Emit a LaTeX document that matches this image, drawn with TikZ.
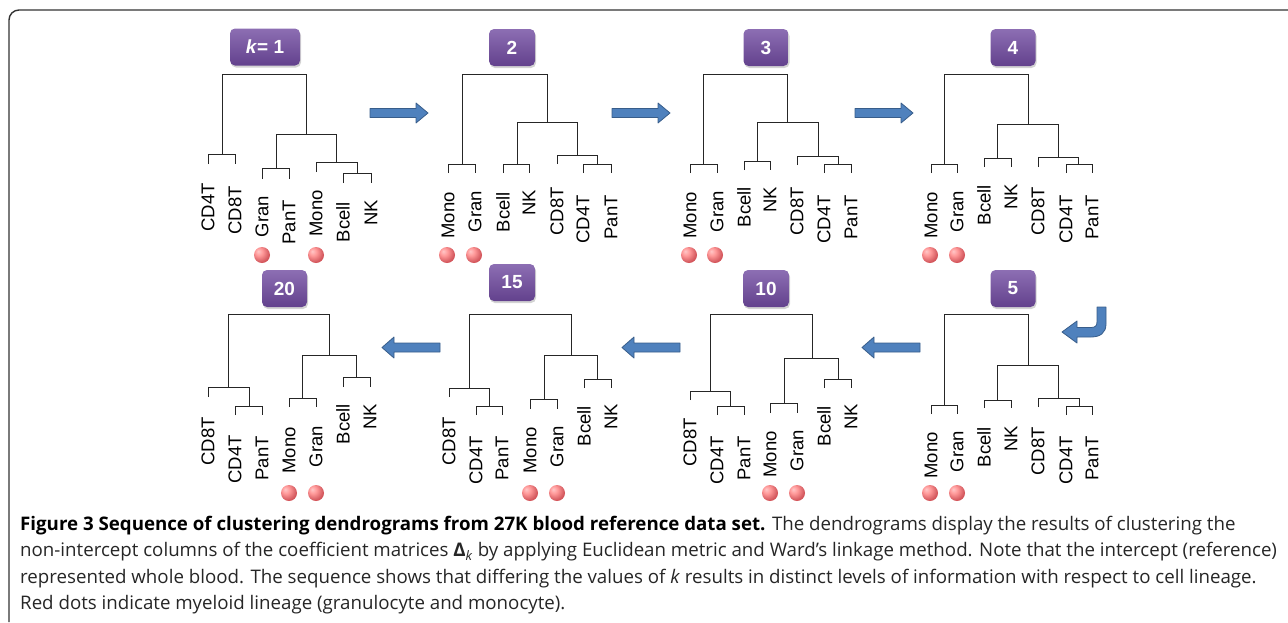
\documentclass[tikz,border=0pt]{standalone}
\usepackage{fontspec}
\setmainfont{Liberation Sans}
\newfontfamily\capfont{Open Sans}
\usepackage{tikz}
\usetikzlibrary{shadows}
\definecolor{boxpurple}{RGB}{112,74,160}
\definecolor{arrowblue}{RGB}{79,129,189}
\definecolor{arrowedge}{RGB}{56,93,138}
\definecolor{dotred}{RGB}{200,38,45}
\pgfdeclareradialshading{dotshade}{\pgfpoint{-12bp}{12bp}}{color(0bp)=(red!22!white); color(12bp)=(red!40!white); color(28bp)=(dotred!75!white); color(45bp)=(dotred); color(70bp)=(dotred)}

\begin{document}
\begin{tikzpicture}[x=1pt,y=-1pt,
    tree/.style={line width=1pt, black!85},
    leaf/.style={rotate=90, anchor=east, inner sep=0pt, font=\fontsize{18.5}{20}\selectfont},
    kbox/.style={rounded corners=5pt, top color=boxpurple!80!white, bottom color=boxpurple!88!black,
        text=white, font=\fontsize{19}{20}\selectfont\bfseries, minimum height=37pt, minimum width=45pt,
        drop shadow={opacity=0.35, shadow xshift=1pt, shadow yshift=-2pt}},
    dot/.style={shading=dotshade},
    barrow/.style={fill=arrowblue, draw=arrowedge, line width=0.8pt, line join=round},
    capline/.style={anchor=base west, inner sep=0pt, text=black!85, font=\capfont\fontsize{18.7}{22}\selectfont}]
    \useasboundingbox (0,0) rectangle (1288,622);
    \draw[line width=1.4pt, black!80, rounded corners=10pt] (9,622) |- (1288,10);

    % k = 1
    \node[kbox, minimum width=70pt] (t1) at (265,47) {\textit{k}= 1};
    \draw[tree] (222,154) |- (306,74) -- (306,134);
    \draw[tree] (208,164) |- (235,154) -- (235,164);
    \draw[tree] (276,168) |- (336,134) -- (336,162);
    \draw[tree] (262,179) |- (289,168) -- (289,179);
    \draw[tree] (316,172) |- (357,162) -- (357,173);
    \draw[tree] (343,183) |- (371,173) -- (371,183);
    \foreach \t/\x/\y [count=\i] in {CD4T/208/183, CD8T/235/186, Gran/262/196, PanT/289/200, Mono/316/190, Bcell/343/202, NK/371/200}
        \node[leaf] (p1-\i) at (\x,\y) {\t};
    \foreach \x in {262,316} \shade[dot] (\x,255) circle (8);

    % k = 2
    \node[kbox, minimum width=46pt] (t2) at (512,47.5) {2};
    \draw[tree] (462,164) |- (547,74) -- (547,122);
    \draw[tree] (448,173) |- (475,164) -- (475,173);
    \draw[tree] (517,164) |- (577,122) -- (577,155);
    \draw[tree] (503,173) |- (529,164) -- (529,173);
    \draw[tree] (557,164) |- (597,155) -- (597,164);
    \draw[tree] (583,173) |- (611,164) -- (611,173);
    \foreach \t/\x/\y [count=\i] in {Mono/448/192, Gran/475/191, Bcell/503/192, NK/529/190, CD8T/557/187, CD4T/583/195, PanT/611/195}
        \node[leaf] (p2-\i) at (\x,\y) {\t};
    \foreach \x in {447,474} \shade[dot] (\x,255) circle (8);

    % k = 3
    \node[kbox] (t3) at (766,47.5) {3};
    \draw[tree] (703,164) |- (787,74) -- (787,122);
    \draw[tree] (690,173) |- (717,164) -- (717,173);
    \draw[tree] (757,161) |- (818,122) -- (818,156);
    \draw[tree] (744,170) |- (770,161) -- (770,170);
    \draw[tree] (797,165) |- (838,156) -- (838,164);
    \draw[tree] (824,173) |- (851,164) -- (851,173);
    \foreach \t/\x/\y [count=\i] in {Mono/690/192, Gran/717/191, Bcell/744/187, NK/770/187, CD8T/797/187, CD4T/824/195, PanT/851/195}
        \node[leaf] (p3-\i) at (\x,\y) {\t};
    \foreach \x in {689,715} \shade[dot] (\x,255) circle (8);

    % k = 4
    \node[kbox] (t4) at (1013,47.5) {4};
    \draw[tree] (944,164) |- (1028,74) -- (1028,124);
    \draw[tree] (931,173) |- (957,164) -- (957,173);
    \draw[tree] (997,158) |- (1058,124) -- (1058,157);
    \draw[tree] (984,167) |- (1011,158) -- (1011,167);
    \draw[tree] (1038,167) |- (1078,157) -- (1078,164);
    \draw[tree] (1066,173) |- (1092,164) -- (1092,173);
    \foreach \t/\x/\y [count=\i] in {Mono/931/192, Gran/957/191, Bcell/984/185, NK/1011/184, CD8T/1038/187, CD4T/1066/195, PanT/1092/195}
        \node[leaf] (p4-\i) at (\x,\y) {\t};
    \foreach \x in {930,957} \shade[dot] (\x,255) circle (8);

    % k = 5
    \node[kbox] (t5) at (1013,288.5) {5};
    \draw[tree] (944,405) |- (1028,314) -- (1028,365);
    \draw[tree] (931,414) |- (957,405) -- (957,414);
    \draw[tree] (997,400) |- (1058,365) -- (1058,398);
    \draw[tree] (984,408) |- (1011,400) -- (1011,408);
    \draw[tree] (1038,407) |- (1079,398) -- (1079,406);
    \draw[tree] (1066,415) |- (1092,406) -- (1092,415);
    \foreach \t/\x/\y [count=\i] in {Mono/931/432, Gran/957/431, Bcell/984/427, NK/1011/426, CD8T/1038/427, CD4T/1066/436, PanT/1092/436}
        \node[leaf] (p5-\i) at (\x,\y) {\t};
    \foreach \x in {930,957} \shade[dot] (\x,493) circle (8);

    % k = 10
    \node[kbox, minimum width=46pt] (t10) at (766,288.5) {10};
    \draw[tree] (710,391) |- (812,314) -- (812,358);
    \draw[tree] (690,400) |- (730,391) -- (730,406);
    \draw[tree] (717,415) |- (744,406) -- (744,415);
    \draw[tree] (784,403) |- (838,358) -- (838,379);
    \draw[tree] (770,413) |- (797,403) -- (797,413);
    \draw[tree] (824,388) |- (851,379) -- (851,388);
    \foreach \t/\x/\y [count=\i] in {CD8T/690/418, CD4T/717/436, PanT/744/436, Mono/770/431, Gran/797/430, Bcell/824/406, NK/851/404}
        \node[leaf] (p10-\i) at (\x,\y) {\t};
    \foreach \x in {770,797} \shade[dot] (\x,493) circle (8);

    % k = 15
    \node[kbox, minimum width=46pt] (t15) at (512,282.5) {15};
    \draw[tree] (469,388) |- (571,314) -- (571,355);
    \draw[tree] (449,397) |- (489,388) -- (489,406);
    \draw[tree] (476,415) |- (502,406) -- (502,415);
    \draw[tree] (544,399) |- (597,355) -- (597,379);
    \draw[tree] (530,409) |- (557,399) -- (557,409);
    \draw[tree] (584,388) |- (611,379) -- (611,388);
    \foreach \t/\x/\y [count=\i] in {CD8T/449/417, CD4T/476/436, PanT/502/436, Mono/530/427, Gran/557/426, Bcell/584/406, NK/611/404}
        \node[leaf] (p15-\i) at (\x,\y) {\t};
    \foreach \x in {530,557} \shade[dot] (\x,493) circle (8);

    % k = 20
    \node[kbox] (t20) at (284.5,288.5) {20};
    \draw[tree] (228,387) |- (329,314) -- (329,355);
    \draw[tree] (208,397) |- (249,387) -- (249,406);
    \draw[tree] (235,415) |- (262,406) -- (262,415);
    \draw[tree] (302,398) |- (356,355) -- (356,377);
    \draw[tree] (289,407) |- (316,398) -- (316,407);
    \draw[tree] (343,387) |- (370,377) -- (370,387);
    \foreach \t/\x/\y [count=\i] in {CD8T/208/417, CD4T/235/435, PanT/262/436, Mono/289/427, Gran/316/426, Bcell/343/404, NK/370/404}
        \node[leaf] (p20-\i) at (\x,\y) {\t};
    \foreach \x in {289,316} \shade[dot] (\x,493) circle (8);

    % arrows
    \foreach \x in {370,612,855}
        \draw[barrow] (\x,108.5) -- (\x+46,108.5) -- (\x+46,103) -- (\x+58,113) -- (\x+46,123) -- (\x+46,117.5) -- (\x,117.5) -- cycle;
    \foreach \x in {382,622,862}
        \draw[barrow] (\x,347.5) -- (\x+12,337) -- (\x+12,343) -- (\x+58,343) -- (\x+58,352) -- (\x+12,352) -- (\x+12,358) -- cycle;
    \draw[barrow] (1097,307) -- (1106,307) -- (1106,324) .. controls (1106,333) and (1100,337) .. (1091,337)
        -- (1077,337) -- (1077,343) -- (1062,332) -- (1077,321) -- (1077,327.5) -- (1091,327.5)
        .. controls (1095,327.5) and (1097,326) .. (1097,322) -- cycle;

    % caption
    \node[capline] (c1) at (20,530) {\textbf{\color{black}Figure 3 Sequence of clustering dendrograms from 27K blood reference data set.} The dendrograms display the results of clustering the};
    \node[capline] (c2) at (20,556.5) {non-intercept columns of the coefficient matrices \textbf{Δ}\textsubscript{\textit{k}} by applying Euclidean metric and Ward’s linkage method. Note that the intercept (reference)};
    \node[capline] (c3) at (20,583) {represented whole blood. The sequence shows that differing the values of \textit{k} results in distinct levels of information with respect to cell lineage.};
    \node[capline] (c4) at (20,609.5) {Red dots indicate myeloid lineage (granulocyte and monocyte).};
\end{tikzpicture}
\end{document}
